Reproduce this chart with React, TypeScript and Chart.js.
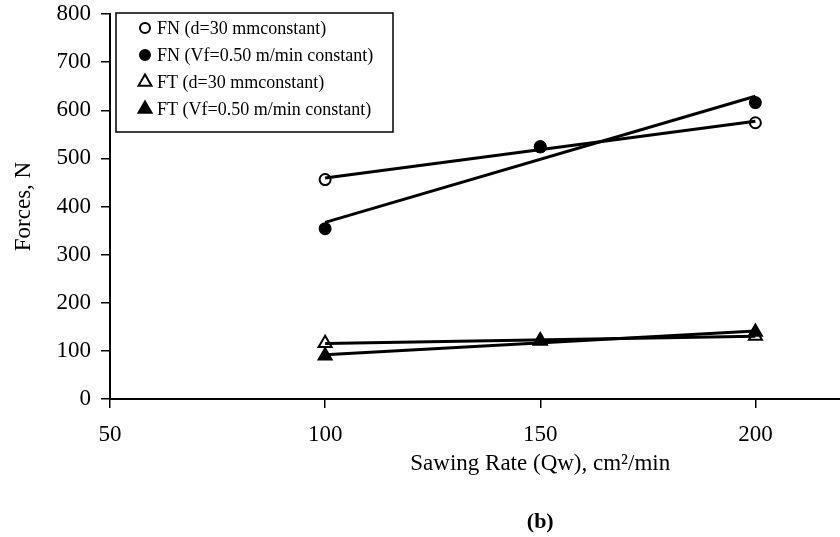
import React, { useEffect, useRef } from 'react';
import { Chart, registerables } from 'chart.js';

Chart.register(...registerables);

// ---- data ----
const sawingRate = [100, 150, 200];
const fnDepthConst = [456, 524, 574];
const fnFeedConst = [354, 524, 616];
const ftDepthConst = [116, 121, 131];
const ftFeedConst = [90, 121, 139];

const seriesLabels = [
  'FN (d=30 mmconstant)',
  'FN (Vf=0.50 m/min constant)',
  'FT (d=30 mmconstant)',
  'FT (Vf=0.50 m/min constant)',
];
const seriesMarkers = ['circle', 'circle', 'triangle', 'triangle'];
const seriesFilled = [false, true, false, true];

const xTickValues = [50, 100, 150, 200];
const yTickValues = [0, 100, 200, 300, 400, 500, 600, 700, 800];

const xTitle = 'Sawing Rate (Qw), cm\u00B2/min';
const yTitle = 'Forces, N';
const panelLabel = '(b)';

const FONT = "'Liberation Serif', 'Times New Roman', serif";

function linearFit(xs: number[], ys: number[]) {
  const n = xs.length;
  const mx = xs.reduce((a, b) => a + b, 0) / n;
  const my = ys.reduce((a, b) => a + b, 0) / n;
  let sxy = 0;
  let sxx = 0;
  for (let i = 0; i < n; i++) {
    sxy += (xs[i] - mx) * (ys[i] - my);
    sxx += (xs[i] - mx) * (xs[i] - mx);
  }
  const slope = sxy / sxx;
  const b = my - slope * mx;
  const x0 = Math.min(...xs);
  const x1 = Math.max(...xs);
  return [
    { x: x0, y: slope * x0 + b },
    { x: x1, y: slope * x1 + b },
  ];
}

function drawMarker(ctx: CanvasRenderingContext2D, style: string, filled: boolean, x: number, y: number) {
  ctx.save();
  ctx.lineWidth = 2;
  ctx.strokeStyle = '#000';
  ctx.fillStyle = filled ? '#000' : '#fff';
  ctx.beginPath();
  if (style === 'circle') {
    ctx.arc(x, y, 5, 0, Math.PI * 2);
  } else {
    const r = 7.5;
    let rad = 0;
    ctx.moveTo(x + Math.sin(rad) * r, y - Math.cos(rad) * r);
    rad += (2 * Math.PI) / 3;
    ctx.lineTo(x + Math.sin(rad) * r, y - Math.cos(rad) * r);
    rad += (2 * Math.PI) / 3;
    ctx.lineTo(x + Math.sin(rad) * r, y - Math.cos(rad) * r);
    ctx.closePath();
  }
  ctx.fill();
  ctx.stroke();
  ctx.restore();
}

const boxLegend = {
  id: 'boxLegend',
  afterDraw(chart: any) {
    const ctx: CanvasRenderingContext2D = chart.ctx;
    const area = chart.chartArea;
    const left = area.left + 6;
    const top = area.top - 1;
    const w = 277;
    const h = 119;
    ctx.save();
    ctx.fillStyle = '#fff';
    ctx.fillRect(left, top, w, h);
    ctx.strokeStyle = '#000';
    ctx.lineWidth = 1.5;
    ctx.strokeRect(left, top, w, h);
    ctx.font = `18px ${FONT}`;
    ctx.textBaseline = 'middle';
    ctx.textAlign = 'left';
    ctx.fillStyle = '#000';
    seriesLabels.forEach((label, i) => {
      const y = top + 15 + i * 27;
      drawMarker(ctx, seriesMarkers[i], seriesFilled[i], left + 29, y);
      ctx.fillStyle = '#000';
      ctx.fillText(label, left + 41, y + 1);
    });
    ctx.restore();
  },
};

export default function App() {
  const canvasRef = useRef<HTMLCanvasElement | null>(null);

  useEffect(() => {
    if (!canvasRef.current) return;
    const seriesValues = [fnDepthConst, fnFeedConst, ftDepthConst, ftFeedConst];

    const trendSets = seriesValues.map((vals, i) => ({
      label: seriesLabels[i] + ' trend',
      data: linearFit(sawingRate, vals),
      showLine: true,
      borderColor: '#000',
      borderWidth: 3,
      pointRadius: 0,
      fill: false,
      order: 0,
    }));

    const pointSets = seriesValues.map((vals, i) => ({
      label: seriesLabels[i],
      data: sawingRate.map((x, j) => ({ x, y: vals[j] })),
      showLine: false,
      pointStyle: seriesMarkers[i],
      pointRadius: seriesMarkers[i] === 'circle' ? 5.5 : 7.5,
      pointBorderWidth: 2,
      pointBorderColor: '#000',
      pointBackgroundColor: seriesFilled[i] ? '#000' : '#fff',
      borderColor: '#000',
      order: seriesFilled[i] ? 1 : 2,
    }));

    const chart = new Chart(canvasRef.current, {
      type: 'scatter',
      data: { datasets: [...trendSets, ...pointSets] as any },
      options: {
        responsive: false,
        animation: false,
        devicePixelRatio: 1,
        layout: { padding: { top: 14, left: 0, right: 3, bottom: 1.6 } },
        plugins: {
          legend: { display: false },
          tooltip: { enabled: false },
          title: {
            display: true,
            text: panelLabel,
            position: 'bottom',
            fullSize: false,
            color: '#000',
            font: { family: FONT, size: 22, weight: 'bold' },
            padding: { top: 20, bottom: 0 },
          },
        },
        scales: {
          x: {
            type: 'linear',
            min: 50,
            max: 250,
            afterBuildTicks: (scale: any) => {
              scale.ticks = xTickValues.map((v) => ({ value: v }));
            },
            afterFit: (scale: any) => {
              scale.height = 90;
            },
            ticks: {
              color: '#000',
              font: { family: FONT, size: 23 },
              padding: 13,
              maxRotation: 0,
              autoSkip: false,
            },
            grid: {
              drawOnChartArea: false,
              drawTicks: true,
              tickLength: 9,
              color: '#000',
              lineWidth: 1.5,
            },
            border: { color: '#000', width: 2 },
            title: {
              display: true,
              text: xTitle,
              color: '#000',
              font: { family: FONT, size: 23 },
              padding: { top: 0, bottom: 11 },
            },
          },
          y: {
            type: 'linear',
            min: 0,
            max: 800,
            afterBuildTicks: (scale: any) => {
              scale.ticks = yTickValues.map((v) => ({ value: v }));
            },
            afterFit: (scale: any) => {
              scale.width = 110;
              scale.paddingTop = 0;
              scale.paddingBottom = 0;
            },
            ticks: {
              color: '#000',
              font: { family: FONT, size: 23, lineHeight: 0.25 },
              padding: 10,
              autoSkip: false,
            },
            grid: {
              drawOnChartArea: false,
              drawTicks: true,
              tickLength: 9,
              color: '#000',
              lineWidth: 1.5,
            },
            border: { color: '#000', width: 2 },
            title: {
              display: true,
              text: yTitle,
              color: '#000',
              font: { family: FONT, size: 23 },
              padding: { top: 10, bottom: 0 },
            },
          },
        },
      },
      plugins: [boxLegend],
    } as any);

    return () => {
      chart.destroy();
    };
  }, []);

  return (
    <div
      style={{
        position: 'fixed',
        left: 0,
        top: 0,
        width: 840,
        height: 537,
        overflow: 'hidden',
        background: '#fff',
      }}
    >
      <canvas ref={canvasRef} width={980} height={537} style={{ display: 'block', width: 980, height: 537 }} />
    </div>
  );
}
